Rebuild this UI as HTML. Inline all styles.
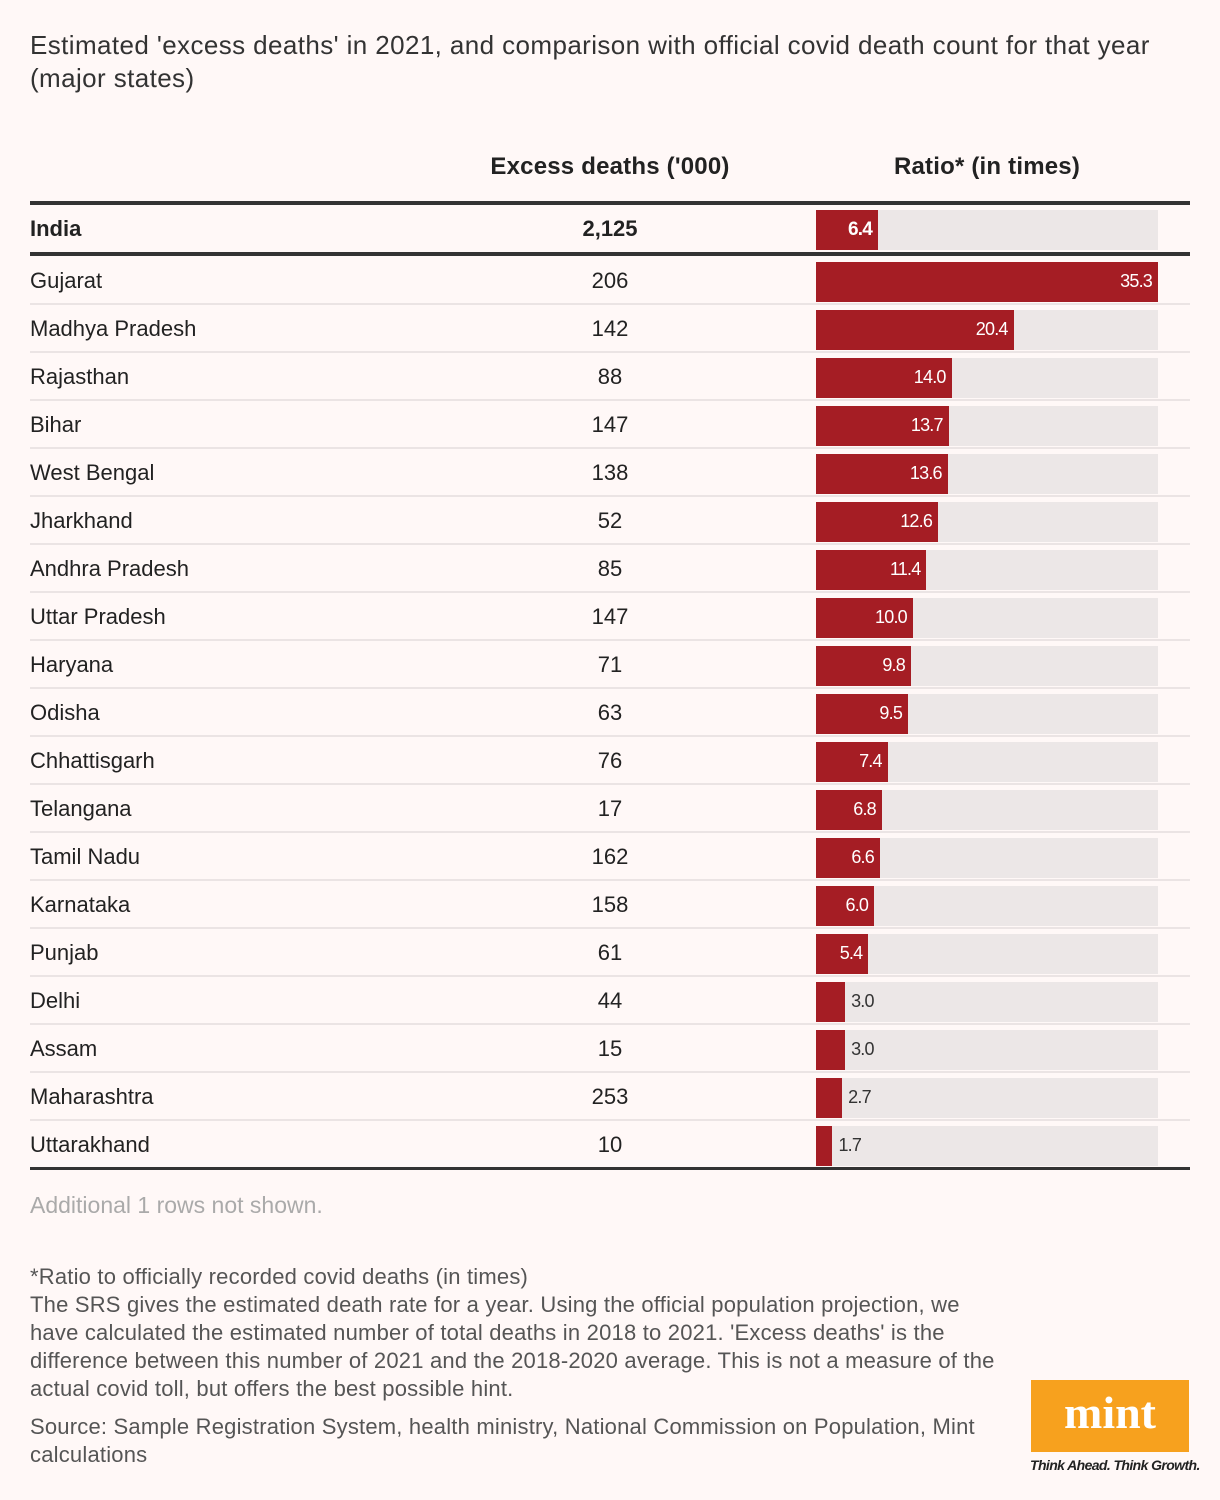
<!DOCTYPE html>
<html><head><meta charset="utf-8"><style>
body{margin:0;background:#fff8f7;font-family:"Liberation Sans",sans-serif;color:#222;}
#root{position:relative;width:1220px;height:1500px;overflow:hidden;}
.t{position:absolute;white-space:nowrap;}
.title{left:30px;font-size:26px;letter-spacing:0.4px;color:#333;}
.rowlab{left:30px;font-size:22px;letter-spacing:0;}
.num{width:200px;left:510px;text-align:center;font-size:22px;}
.foot{left:30px;font-size:22px;letter-spacing:0.2px;color:#555;}
</style></head><body>
<div id="root">
<div class="t title" style="top:30px">Estimated 'excess deaths' in 2021, and comparison with official covid death count for that year</div>
<div class="t title" style="top:63px">(major states)</div>
<div class="t" style="left:470px;width:280px;text-align:center;top:153px;font-size:24px;font-weight:bold;letter-spacing:0.2px">Excess deaths ('000)</div>
<div class="t" style="left:847px;width:280px;text-align:center;top:153px;font-size:24px;font-weight:bold;letter-spacing:0.2px">Ratio* (in times)</div>
<div style="position:absolute;left:30px;top:201px;width:1160px;height:4px;background:#333"></div>
<div style="position:absolute;left:30px;top:252px;width:1160px;height:4px;background:#333"></div>
<div id="rows"></div>
<div style="position:absolute;left:30px;top:1167px;width:1160px;height:3px;background:#333"></div>
<div class="t" style="left:30px;top:1192px;font-size:23px;color:#aaa;letter-spacing:0">Additional 1 rows not shown.</div>
<div class="t foot" style="top:1264px">*Ratio to officially recorded covid deaths (in times)</div>
<div class="t foot" style="top:1292px">The SRS gives the estimated death rate for a year. Using the official population projection, we</div>
<div class="t foot" style="top:1320px">have calculated the estimated number of total deaths in 2018 to 2021. 'Excess deaths' is the</div>
<div class="t foot" style="top:1348px">difference between this number of 2021 and the 2018-2020 average. This is not a measure of the</div>
<div class="t foot" style="top:1376px">actual covid toll, but offers the best possible hint.</div>
<div class="t foot" style="top:1414px">Source: Sample Registration System, health ministry, National Commission on Population, Mint</div>
<div class="t foot" style="top:1442px">calculations</div>
<div style="position:absolute;left:1031px;top:1380px;width:158px;height:72px;background:#f7a11e;color:#fff;font-family:'Liberation Serif',serif;font-weight:bold;font-size:46px;text-align:center;line-height:66px">mint</div>
<div class="t" style="left:1030px;top:1457px;font-size:14px;font-style:italic;font-weight:bold;color:#222;letter-spacing:-0.6px">Think Ahead. Think Growth.</div>
</div>
<script>
const states=["Gujarat","Madhya Pradesh","Rajasthan","Bihar","West Bengal","Jharkhand","Andhra Pradesh","Uttar Pradesh","Haryana","Odisha","Chhattisgarh","Telangana","Tamil Nadu","Karnataka","Punjab","Delhi","Assam","Maharashtra","Uttarakhand"];
const excess=["206","142","88","147","138","52","85","147","71","63","76","17","162","158","61","44","15","253","10"];
const ratio=[35.3,20.4,14.0,13.7,13.6,12.6,11.4,10.0,9.8,9.5,7.4,6.8,6.6,6.0,5.4,3.0,3.0,2.7,1.7];
const indiaExcess="2,125";
const indiaRatio=6.4;
const maxRatio=35.3;
const X0=816,W=342;
const x=v=>v/maxRatio*W;
const root=document.getElementById('rows');
function mk(cls,style,txt){const d=document.createElement('div');d.className=cls;d.style.cssText=style;if(txt!==undefined)d.textContent=txt;root.appendChild(d);return d;}
function bar(v,top,bold){
 const tr=mk('','position:absolute;left:'+X0+'px;top:'+top+'px;width:'+W+'px;height:40px;background:#ece7e7');
 
 
 const w=x(v);
 const b=mk('','position:absolute;left:'+X0+'px;top:'+top+'px;width:'+w+'px;height:40px;background:#a51d24');
 
 
 const inside=v>=5;
 const txt=v.toFixed(1);
 const style='top:'+(top+9)+'px;font-size:'+(bold?'19px':'18px')+';letter-spacing:-0.8px;'+(bold?'font-weight:bold;':'')+(inside?'color:#fff;left:'+(X0+w-106)+'px;width:100px;text-align:right;':'color:#333;left:'+(X0+w+6)+'px;');
 const l=mk('t',style,txt);
 
 
}
let a=mk('t rowlab','top:216px;font-weight:bold','India');


a=mk('t num','top:216px;font-weight:bold',indiaExcess);


bar(indiaRatio,210,true);
states.forEach((s,i)=>{
 const top=256+i*48;
 let e=mk('t rowlab','top:'+(top+12)+'px',s);
 
 
 e=mk('t num','top:'+(top+12)+'px',excess[i]);
 
 
 bar(ratio[i],top+6,false);
 if(i<states.length-1){
  e=mk('','position:absolute;left:30px;top:'+(top+47)+'px;width:1160px;height:2px;background:#ebe4e4');
  
  
 }
});
</script>
</body></html>
